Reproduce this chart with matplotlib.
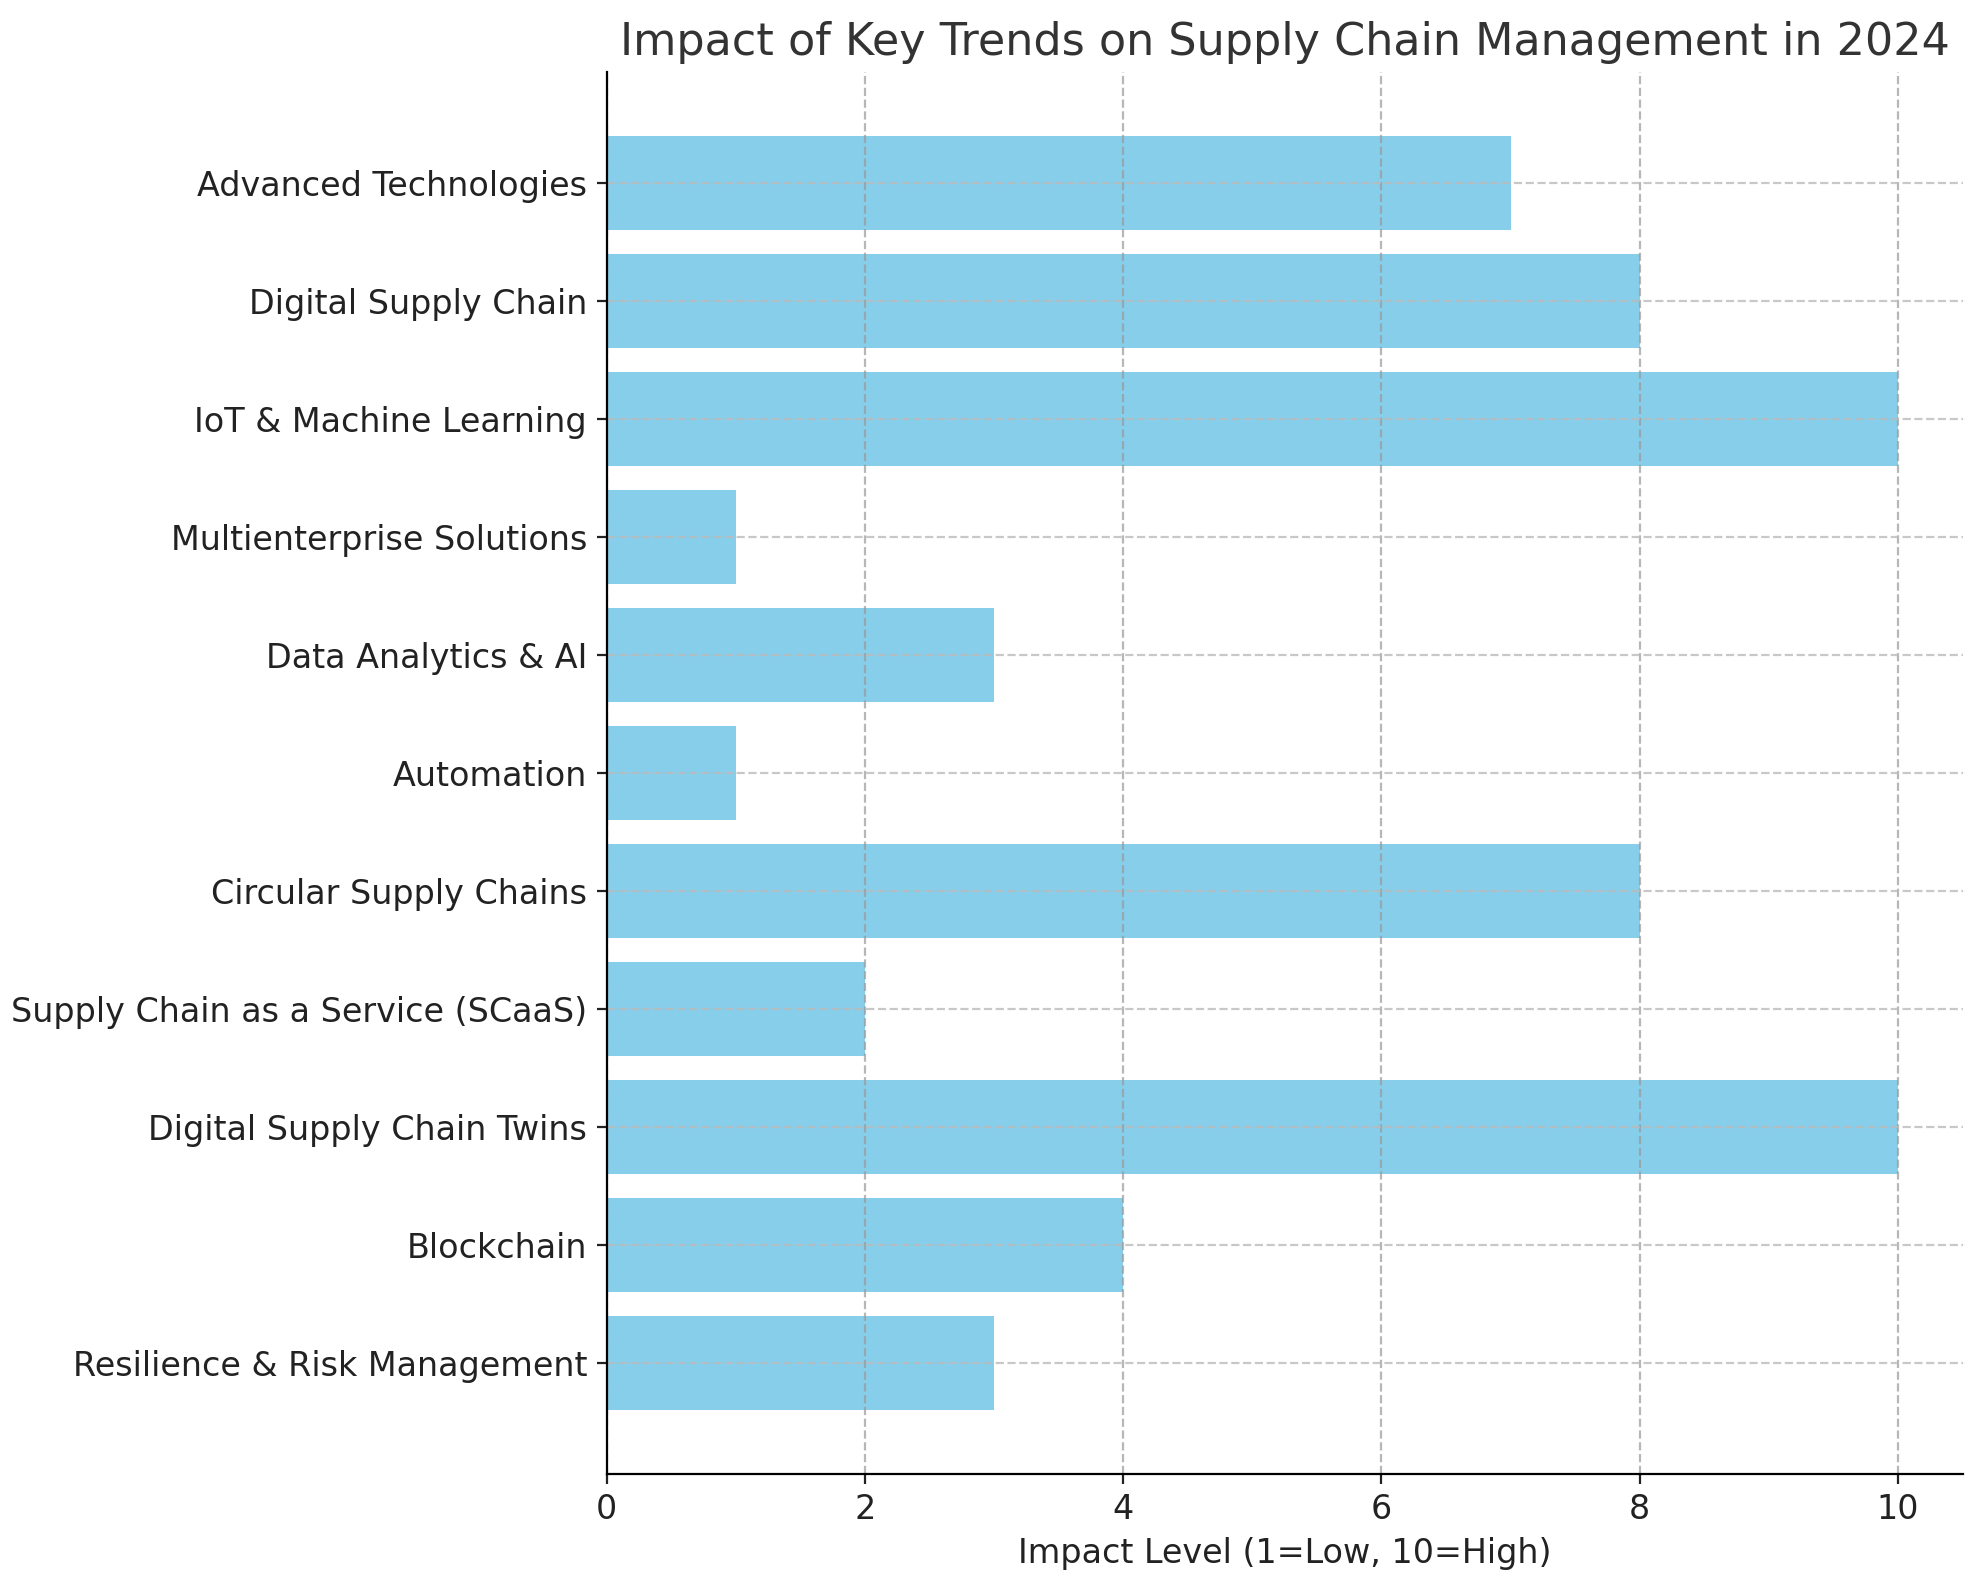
import matplotlib
matplotlib.use("Agg")
import matplotlib.pyplot as plt

categories = [
    "Resilience & Risk Management",
    "Blockchain",
    "Digital Supply Chain Twins",
    "Supply Chain as a Service (SCaaS)",
    "Circular Supply Chains",
    "Automation",
    "Data Analytics & AI",
    "Multienterprise Solutions",
    "IoT & Machine Learning",
    "Digital Supply Chain",
    "Advanced Technologies",
]
impact = [3, 4, 10, 2, 8, 1, 3, 1, 10, 8, 7]

fig = plt.figure(figsize=(1979 / 200, 1580 / 200), dpi=200)
left, right, bottom, top = 0.3065, 0.9917, 0.0672, 0.9544
ax = fig.add_axes([left, bottom, right - left, top - bottom])
ax.barh(categories, impact, color="skyblue")
ax.set_title("Impact of Key Trends on Supply Chain Management in 2024", fontsize=16, color="#333333")
ax.set_xlabel("Impact Level (1=Low, 10=High)", fontsize=12, color="#222222")
ax.tick_params(axis="both", labelsize=12, colors="#222222")
ax.grid(axis="x", linestyle="--", color="#999999", alpha=0.7)
ax.grid(axis="y", linestyle="--", color="#bbbbbb", alpha=0.8)
for s in ["top", "right"]:
    ax.spines[s].set_visible(False)
fig.savefig("out.png", dpi=200)
